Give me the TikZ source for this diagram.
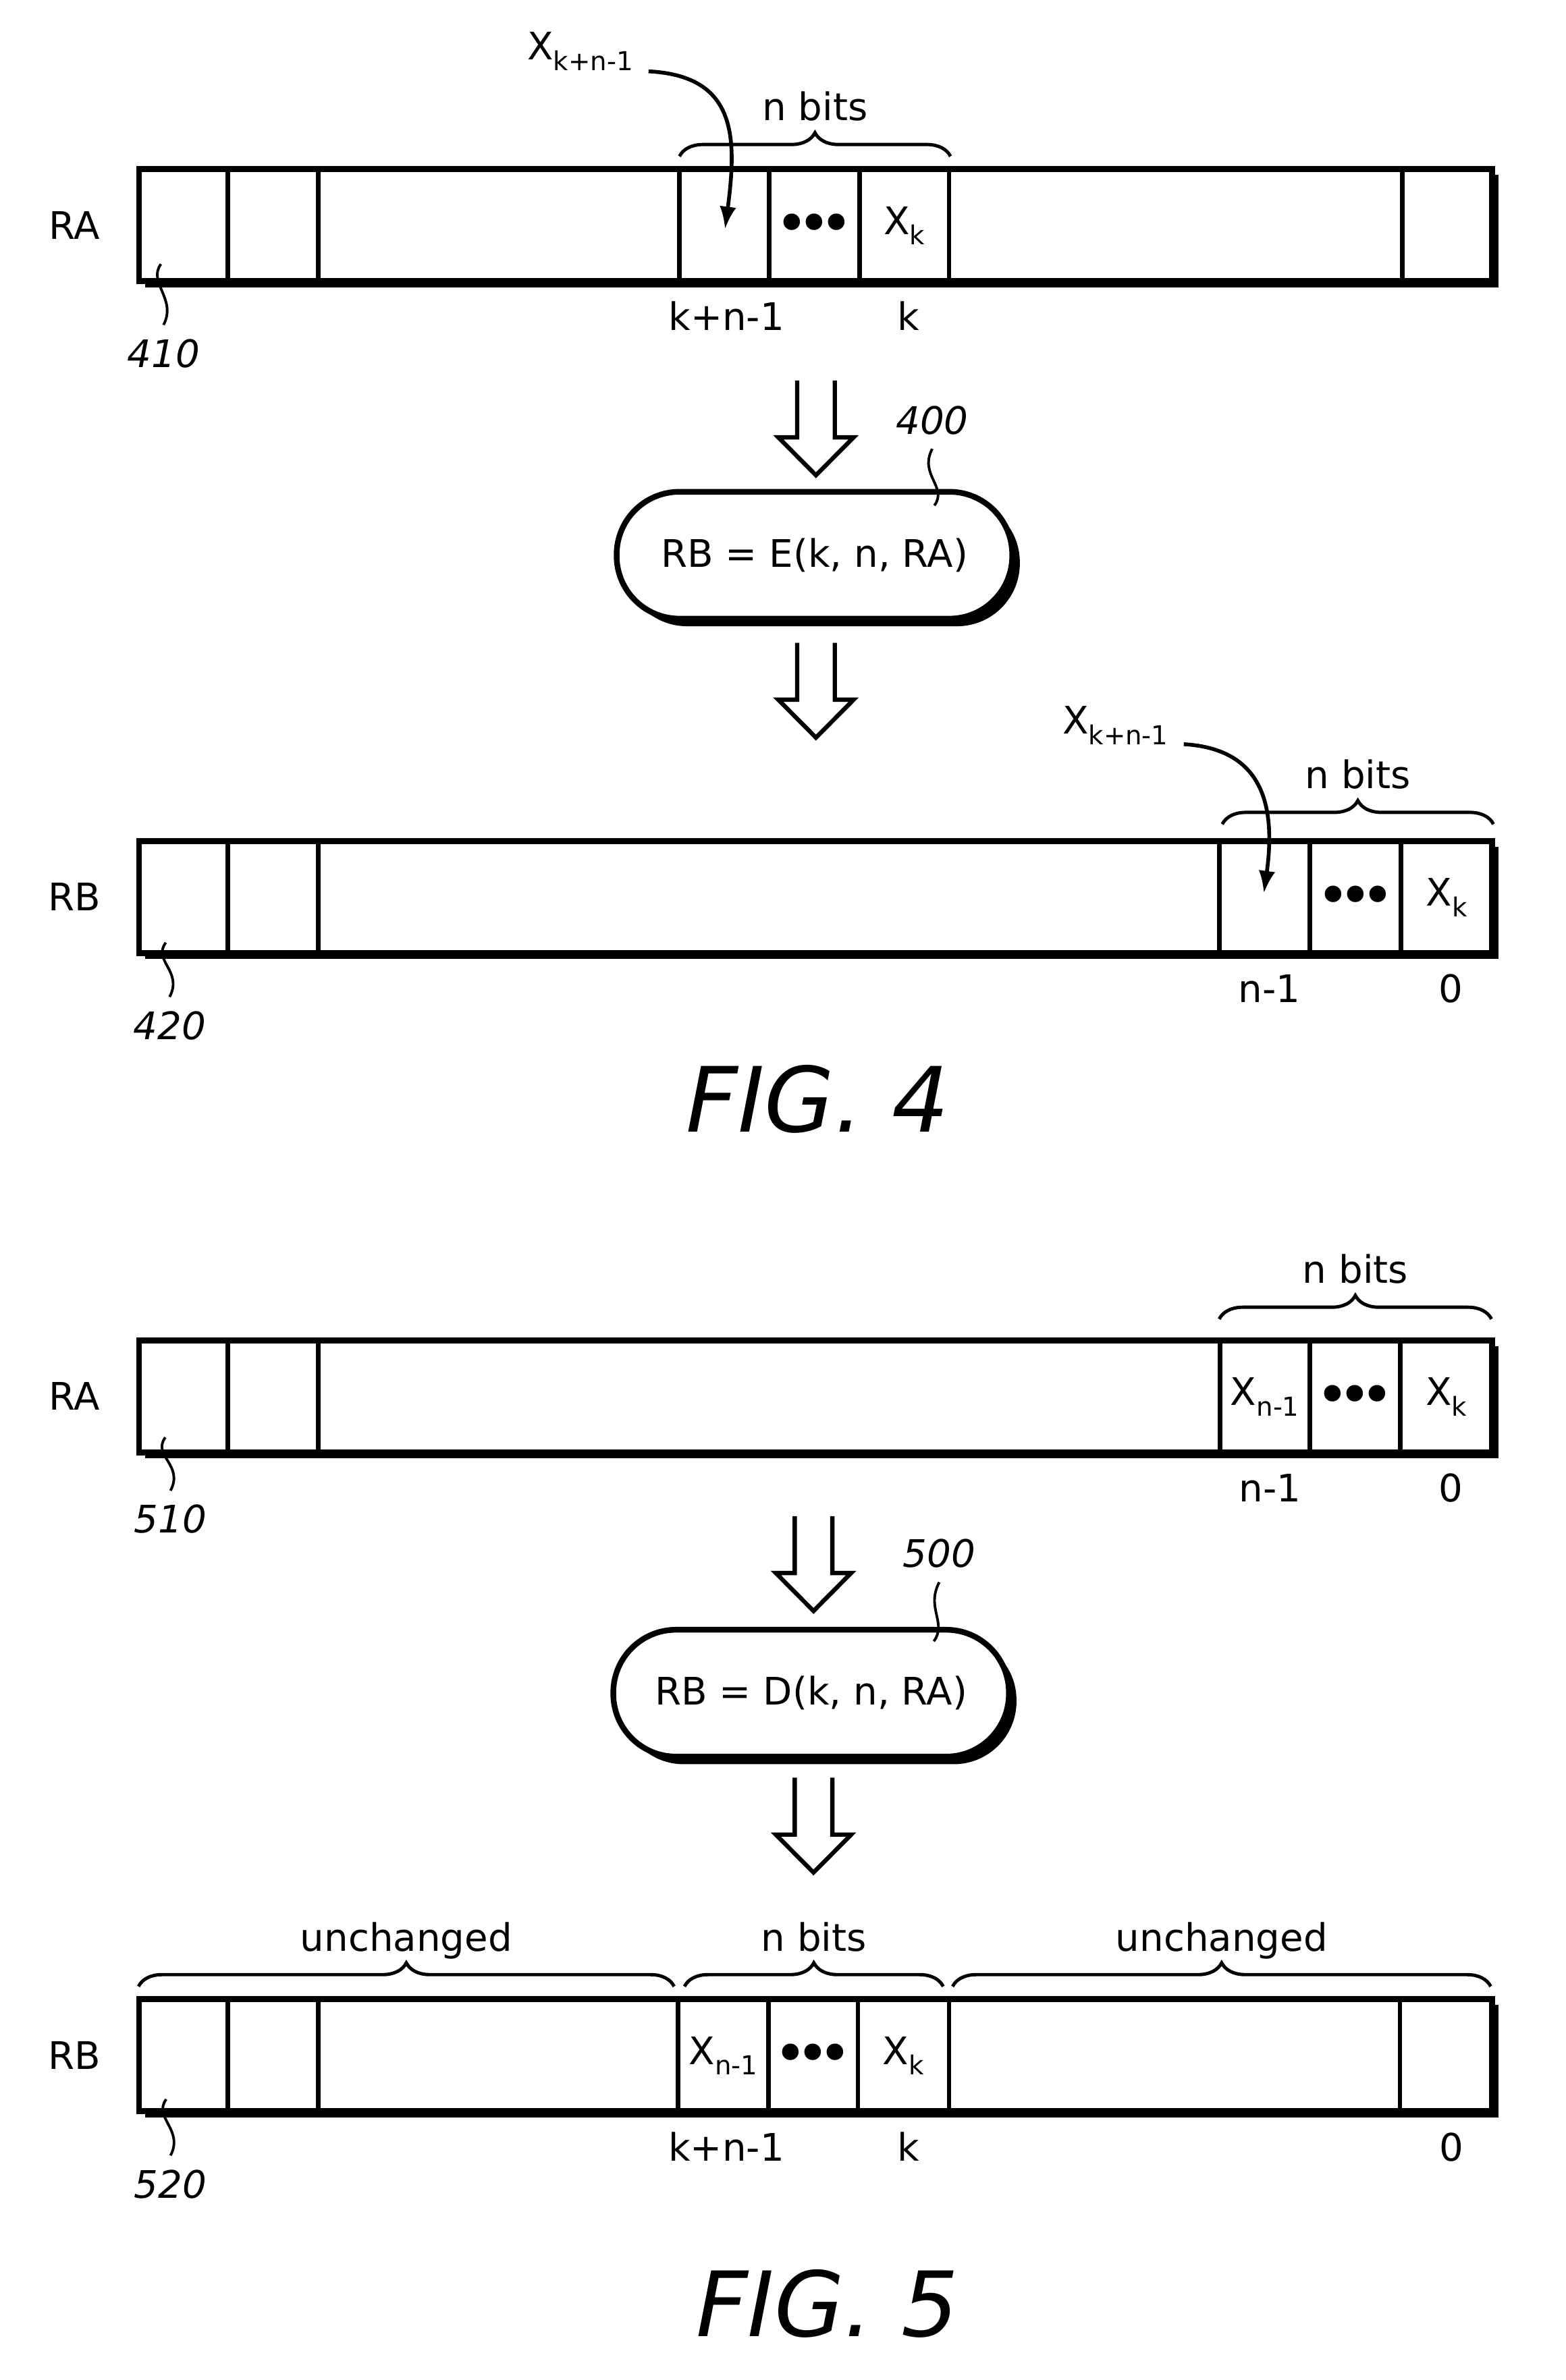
\documentclass[tikz,border=0pt]{standalone}
\usepackage{fontspec}
\setmainfont{DejaVu Sans}
\usetikzlibrary{arrows.meta,calc,decorations.pathreplacing,shadows}

\newcommand{\lowidx}[1]{\raisebox{-4.5pt}{\fontsize{11}{12}\selectfont #1}}
\newcommand{\bigdots}{\raisebox{-3.8pt}{\fontsize{24}{24}\selectfont •\kern-4.8pt•\kern-4.8pt•}}

\tikzset{
	txt/.style={font=\fontsize{16}{19}\selectfont, inner sep=0pt},
	celltxt/.style={txt, anchor=base},
	refnum/.style={txt, font=\fontsize{16}{19}\selectfont\itshape, outer sep=6pt, anchor=base},
	figtxt/.style={inner sep=0pt, font=\fontsize{38}{44}\selectfont\itshape},
	reg/.style={draw, fill=white, line width=2.5pt, minimum width=20.045cm, minimum height=1.664cm, inner sep=0pt,
		general shadow={shadow xshift=2.5pt, shadow yshift=-2.5pt, fill=black}},
	cell/.style={line width=1.9pt},
	pill/.style={txt, draw, fill=white, line width=2.4pt, rounded corners=0.93cm, minimum width=5.86cm, minimum height=1.88cm,
		general shadow={shadow xshift=3.2pt, shadow yshift=-3.2pt, fill=black}},
	bits/.style={decorate, decoration={brace, amplitude=0.35cm}, line width=1.4pt},
	over/.style={txt, midway, anchor=base, yshift=15pt},
	leader/.style={line width=1.1pt},
	pointer/.style={line width=1.6pt, -{Latex[length=9.5pt, width=7pt]}},
	fat arrow/.pic={
		\draw[line width=1.8pt, line join=miter]
			(-12.4,0) -- (-12.4,37.5) -- (-24.8,37.5) -- (0,62.5) -- (24.8,37.5) -- (12.4,37.5) -- (12.4,0);
	}
}

\begin{document}
\begin{tikzpicture}[x=0.02249cm, y=-0.02249cm]
	\fill[white] (0,0) rectangle (1031,1568);
	\useasboundingbox (0,0) rectangle (1031,1568);

	% FIG. 4, register RA
	\node[txt] (ra4lbl) at (49,148.3) {RA};
	\node[reg] (ra4) at (537.2,148.3) {};
	\foreach \x in {150,209.5,447.5,506.5,566,625,923.5}
		\draw[cell] (ra4.north -| \x,0) -- (ra4.south -| \x,0);
	\node[celltxt] (ra4dots) at (536.3,154.3) {\bigdots};
	\node[celltxt] (ra4xk) at (595.5,154.3) {X\lowidx{k}};
	\node[celltxt] (ra4hi) at (478.5,217.8) {k+n-1};
	\node[celltxt] (ra4lo) at (598.5,217.8) {k};
	\draw[bits] (447.5,103) -- (626,103) node[over] (ra4bits) {n bits};
	\coordinate (ra4hit) at (477.5,151);
	\node[celltxt, anchor=base west] (ra4src) at (347,39.5) {X\lowidx{k+n-1}};
	\draw[pointer] ([shift={(10,7.5)}]ra4src.base east) .. controls +(58,3) and +(8,-61) .. (ra4hit);
	\node[refnum] (r410) at (107.7,242) {410};
	\coordinate (t410) at (106,174);
	\draw[leader] (r410.north) .. controls +(9,-17) and +(-9,12) .. (t410);

	% encoder
	\node[pill] (enc) at (536.4,365.8) {RB = E(k, n, RA)};
	\pic at ($(enc.north)+(1,-71.5)$) {fat arrow};
	\pic at ($(enc.south)+(1,14)$) {fat arrow};
	\node[refnum] (r400) at (614,286) {400};
	\coordinate (t400) at (615.4,333);
	\draw[leader] (r400.south) .. controls +(-9,17) and +(9,-12) .. (t400);

	% FIG. 4, register RB
	\node[txt] (rb4lbl) at (49,591) {RB};
	\node[reg] (rb4) at (537.2,591) {};
	\foreach \x in {150,209.5,803,862.8,922.8}
		\draw[cell] (rb4.north -| \x,0) -- (rb4.south -| \x,0);
	\node[celltxt] (rb4dots) at (892.8,597) {\bigdots};
	\node[celltxt] (rb4xk) at (952.8,597) {X\lowidx{k}};
	\node[celltxt] (rb4hi) at (836,660.5) {n-1};
	\node[celltxt] (rb4lo) at (955.5,660.5) {0};
	\draw[bits] (805,543) -- (983.6,543) node[over] (rb4bits) {n bits};
	\coordinate (rb4hit) at (832.4,588.6);
	\node[celltxt, anchor=base west] (rb4src) at (699.5,483.5) {X\lowidx{k+n-1}};
	\draw[pointer] ([shift={(10,6.8)}]rb4src.base east) .. controls +(52,3) and +(8,-58) .. (rb4hit);
	\node[refnum] (r420) at (111.7,684.7) {420};
	\coordinate (t420) at (109.2,621);
	\draw[leader] (r420.north) .. controls +(9,-17) and +(-9,12) .. (t420);

	\node[figtxt] (fig4) at (538.5,724) {FIG. 4};

	% FIG. 5, register RA
	\node[txt] (ra5lbl) at (49,920) {RA};
	\node[reg] (ra5) at (537.2,920) {};
	\foreach \x in {150,209.5,803.5,862.7,922.3}
		\draw[cell] (ra5.north -| \x,0) -- (ra5.south -| \x,0);
	\node[celltxt] (ra5xn) at (833,926) {X\lowidx{n-1}};
	\node[celltxt] (ra5dots) at (892.5,926) {\bigdots};
	\node[celltxt] (ra5xk) at (952.5,926) {X\lowidx{k}};
	\node[celltxt] (ra5hi) at (836.5,989.5) {n-1};
	\node[celltxt] (ra5lo) at (955.5,989.5) {0};
	\draw[bits] (803,869) -- (982.3,869) node[over] (ra5bits) {n bits};
	\node[refnum] (r510) at (112.3,1010) {510};
	\coordinate (t510) at (108.9,947);
	\draw[leader] (r510.north) .. controls +(9,-17) and +(-9,12) .. (t510);

	% decoder
	\node[pill] (dec) at (534.2,1115.5) {RB = D(k, n, RA)};
	\pic at ($(dec.north)+(1.6,-73)$) {fat arrow};
	\pic at ($(dec.south)+(1.6,12)$) {fat arrow};
	\node[refnum] (r500) at (618.6,1032.7) {500};
	\coordinate (t500) at (615,1081.3);
	\draw[leader] (r500.south) .. controls +(-9,17) and +(9,-12) .. (t500);

	% FIG. 5, register RB
	\node[txt] (rb5lbl) at (49,1354) {RB};
	\node[reg] (rb5) at (537.2,1354) {};
	\foreach \x in {150,209.5,446.7,506,565,625,922}
		\draw[cell] (rb5.north -| \x,0) -- (rb5.south -| \x,0);
	\node[celltxt] (rb5xn) at (476.4,1360) {X\lowidx{n-1}};
	\node[celltxt] (rb5dots) at (535.5,1360) {\bigdots};
	\node[celltxt] (rb5xk) at (595,1360) {X\lowidx{k}};
	\node[celltxt] (rb5hi) at (478.4,1423.5) {k+n-1};
	\node[celltxt] (rb5lo) at (598.5,1423.5) {k};
	\node[celltxt] (rb5zero) at (956,1423.5) {0};
	\draw[bits] (91.2,1308.7) -- (444,1308.7) node[over] (rb5left) {unchanged};
	\draw[bits] (450.8,1308.7) -- (621.2,1308.7) node[over] (rb5bits) {n bits};
	\draw[bits] (627.4,1308.7) -- (981.8,1308.7) node[over] (rb5right) {unchanged};
	\node[refnum] (r520) at (112.3,1448) {520};
	\coordinate (t520) at (109.5,1383);
	\draw[leader] (r520.north) .. controls +(9,-17) and +(-9,12) .. (t520);

	\node[figtxt] (fig5) at (545,1517.5) {FIG. 5};
\end{tikzpicture}
\end{document}
